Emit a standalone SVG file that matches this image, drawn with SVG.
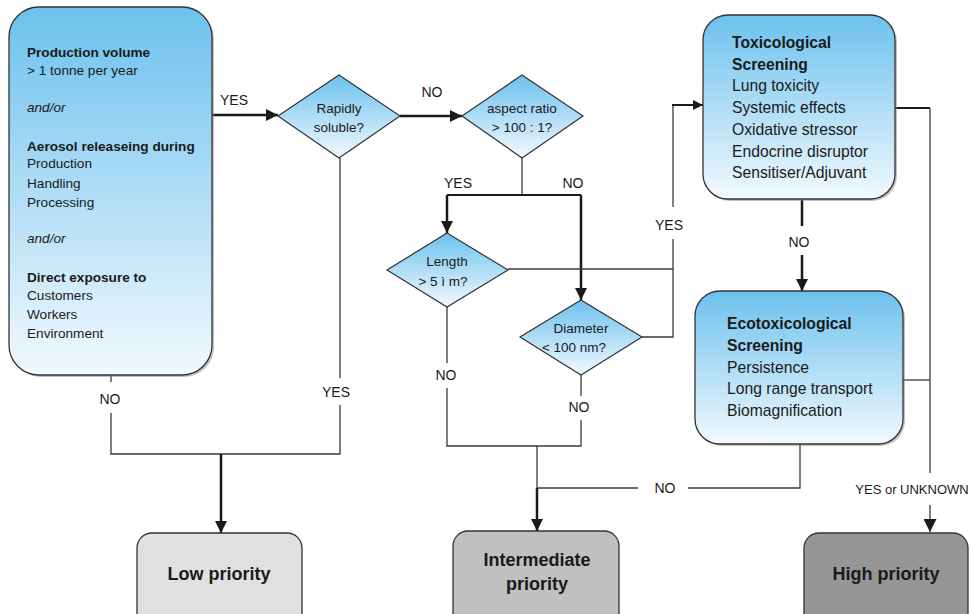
<svg xmlns="http://www.w3.org/2000/svg" width="971" height="614" viewBox="0 0 971 614">
<defs>
<linearGradient id="blue" x1="0" y1="0" x2="0" y2="1">
<stop offset="0" stop-color="#6cc1ee"/>
<stop offset="1" stop-color="#f2f9fe"/>
</linearGradient>
<marker id="ah" viewBox="0 0 10 10" refX="10" refY="5" markerWidth="5" markerHeight="5" markerUnits="strokeWidth" orient="auto">
<path d="M0,0 L10,5 L0,10 z" fill="#1a1a1a"/>
</marker>
<marker id="ahs" viewBox="0 0 10 10" refX="10" refY="5" markerWidth="10" markerHeight="10" markerUnits="strokeWidth" orient="auto">
<path d="M0,0 L10,5 L0,10 z" fill="#1a1a1a"/>
</marker>
</defs>
<style>
text{font-family:"Liberation Sans",Arial,sans-serif;fill:#1a1a1a}
.box{stroke:#333;stroke-width:1.3;fill:url(#blue)}
.shadow{fill:#888;opacity:0.5}
.dia{stroke:#333;stroke-width:1.2;fill:url(#blue)}
.t14{font-size:13.6px}
.b{font-weight:bold}
.t16{font-size:15.7px}
.dt{font-size:13.5px;text-anchor:middle}
.lbl{font-size:14px;text-anchor:middle}
.thin{stroke:#3a3a3a;stroke-width:1.3;fill:none}
.thick{stroke:#1a1a1a;stroke-width:2.5;fill:none}
.med{stroke:#1a1a1a;stroke-width:2;fill:none}
.pr{stroke:#333;stroke-width:1.3}
.pt{font-size:18px;font-weight:bold;text-anchor:middle}
</style>

<g id="connectors">
<line class="thick" x1="212" y1="115" x2="278" y2="115" marker-end="url(#ah)"/>
<line class="thick" x1="400" y1="116" x2="462" y2="116" marker-end="url(#ah)"/>
<polyline class="thin" points="522,158 522,195"/>
<polyline class="med" points="447,195 581,195"/>
<line class="thick" x1="447" y1="195" x2="447" y2="233" marker-end="url(#ah)"/>
<line class="thick" x1="581" y1="195" x2="581" y2="300" marker-end="url(#ah)"/>
<polyline class="thin" points="508,269 673,269"/>
<polyline class="thin" points="642,337 673,337 673,239"/>
<polyline class="thin" points="673,207 673,105"/>
<line class="med" x1="672" y1="105" x2="703" y2="105" marker-end="url(#ah)"/>
<polyline class="med" points="895,108 930,108"/>
<polyline class="thin" points="930,108 930,473"/>
<line class="thin" x1="930" y1="505" x2="930" y2="532" marker-end="url(#ahs)"/>
<polyline class="thin" points="903,380 930,380"/>
<polyline class="thick" points="802,200 802,226"/>
<line class="thick" x1="802" y1="255" x2="802" y2="291" marker-end="url(#ah)"/>
<polyline class="thin" points="111,375 111,382"/>
<polyline class="thin" points="111,413 111,454 340,454 340,405"/>
<polyline class="thin" points="340,158 340,378"/>
<line class="thick" x1="221" y1="454" x2="221" y2="533" marker-end="url(#ah)"/>
<polyline class="thin" points="447,307 447,363"/>
<polyline class="thin" points="447,388 447,446 581,446 581,420"/>
<polyline class="thin" points="581,375 581,396"/>
<polyline class="thin" points="537,446 537,488"/>
<line class="thick" x1="537" y1="488" x2="537" y2="531" marker-end="url(#ah)"/>
<polyline class="thin" points="537,488 638,488"/>
<polyline class="thin" points="688,488 800,488 800,444"/>
<text class="lbl" x="234" y="105">YES</text>
<text class="lbl" x="432" y="97">NO</text>
<text class="lbl" x="458" y="188">YES</text>
<text class="lbl" x="573" y="188">NO</text>
<text class="lbl" x="669" y="230">YES</text>
<text class="lbl" x="799" y="247">NO</text>
<text class="lbl" x="110" y="404">NO</text>
<text class="lbl" x="336" y="397">YES</text>
<text class="lbl" x="446" y="380">NO</text>
<text class="lbl" x="579" y="412">NO</text>
<text class="lbl" x="665" y="493">NO</text>
<text class="lbl" x="912" y="494" style="font-size:13px">YES or UNKNOWN</text>
</g>

<g id="criteria">
<rect class="shadow" x="11" y="9" width="203" height="368" rx="30"/>
<rect class="box" x="9" y="7" width="203" height="368" rx="30"/>
<text class="t14 b" x="27" y="57">Production volume</text>
<text class="t14" x="27" y="75">&gt; 1 tonne per year</text>
<text class="t14" x="27" y="112" font-style="italic">and/or</text>
<text class="t14 b" x="27" y="151">Aerosol releaseing during</text>
<text class="t14" x="27" y="168">Production</text>
<text class="t14" x="27" y="188">Handling</text>
<text class="t14" x="27" y="207">Processing</text>
<text class="t14" x="27" y="243" font-style="italic">and/or</text>
<text class="t14 b" x="27" y="282">Direct exposure to</text>
<text class="t14" x="27" y="300">Customers</text>
<text class="t14" x="27" y="319">Workers</text>
<text class="t14" x="27" y="338">Environment</text>
</g>

<g id="soluble">
<polygon class="dia" points="339,75 400,116 339,158 278,116"/>
<text class="dt" x="339" y="113">Rapidly</text>
<text class="dt" x="339" y="132">soluble?</text>
</g>

<g id="aspect">
<polygon class="dia" points="522,75 583,116 522,158 462,116"/>
<text class="dt" x="522" y="113">aspect ratio</text>
<text class="dt" x="522" y="132">&gt; 100 : 1?</text>
</g>

<g id="length">
<polygon class="dia" points="447,233 508,270 447,307 387,270"/>
<text class="dt" x="447" y="266">Length</text>
<text class="dt" x="443" y="286">&gt; 5 ì m?</text>
</g>

<g id="diameter">
<polygon class="dia" points="581,300 642,337 581,375 520,337"/>
<text class="dt" x="581" y="333">Diameter</text>
<text class="dt" x="574" y="352">&lt; 100 nm?</text>
</g>

<g id="tox">
<rect class="shadow" x="705" y="17" width="192" height="184" rx="25"/>
<rect class="box" x="703" y="15" width="192" height="184" rx="25"/>
<text class="t16 b" x="732" y="48">Toxicological</text>
<text class="t16 b" x="732" y="70">Screening</text>
<text class="t16" x="732" y="91">Lung toxicity</text>
<text class="t16" x="732" y="113">Systemic effects</text>
<text class="t16" x="732" y="135">Oxidative stressor</text>
<text class="t16" x="732" y="157">Endocrine disruptor</text>
<text class="t16" x="732" y="178">Sensitiser/Adjuvant</text>
</g>

<g id="ecotox">
<rect class="shadow" x="697" y="293" width="208" height="153" rx="25"/>
<rect class="box" x="695" y="291" width="208" height="153" rx="25"/>
<text class="t16 b" x="727" y="329">Ecotoxicological</text>
<text class="t16 b" x="727" y="351">Screening</text>
<text class="t16" x="727" y="373">Persistence</text>
<text class="t16" x="727" y="394">Long range transport</text>
<text class="t16" x="727" y="416">Biomagnification</text>
</g>

<g id="low">
<rect class="pr" x="137" y="533" width="165" height="100" rx="15" fill="#e0e0e0"/>
<text class="pt" x="219" y="580">Low priority</text>
</g>

<g id="intermediate">
<rect class="pr" x="453" y="531" width="166" height="100" rx="15" fill="#c0c0c0"/>
<text class="pt" x="537" y="566">Intermediate</text>
<text class="pt" x="537" y="590">priority</text>
</g>

<g id="high">
<rect class="pr" x="804" y="533" width="164" height="100" rx="15" fill="#969696"/>
<text class="pt" x="886" y="580">High priority</text>
</g>
</svg>
